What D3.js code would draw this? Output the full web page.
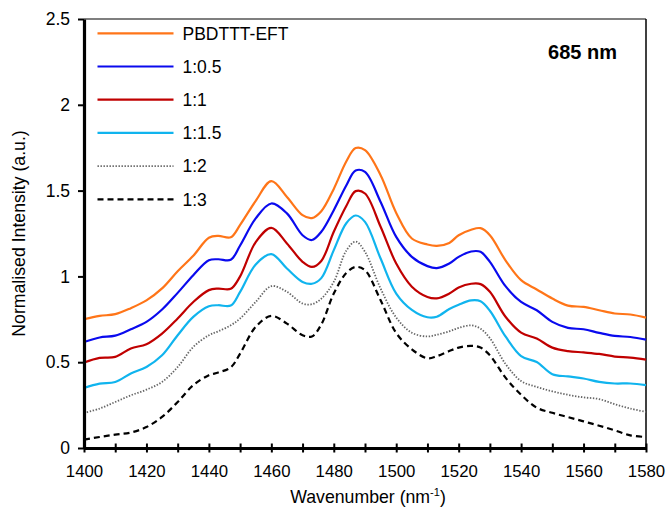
<!DOCTYPE html>
<html>
<head>
<meta charset="utf-8">
<script src="https://cdn.jsdelivr.net/npm/d3@7"></script>
<style>
  body { margin: 0; background: #fff; }
  svg { display: block; font-family: "Liberation Sans", Arial, sans-serif; }
</style>
</head>
<body>
<svg id="chart" width="668" height="510"></svg>
<script>
// wavenumber grid (nm^-1)
const wavenumber = [1400,1405,1410,1415,1420,1425,1430,1435,1440,1443,1447,1450,1455,1460,1465,1470,1473,1476,1480,1484,1487,1490,1495,1500,1505,1510,1513,1517,1520,1524,1527,1530,1535,1540,1545,1550,1555,1560,1565,1570,1575,1580];

const seriesNames = ["PBDTTT-EFT", "1:0.5", "1:1", "1:1.5", "1:2", "1:3"];

const pbdttt = [0.75,0.77,0.78,0.815,0.86,0.93,1.03,1.12,1.225,1.236,1.228,1.30,1.44,1.555,1.463,1.357,1.34,1.38,1.51,1.67,1.748,1.736,1.59,1.37,1.221,1.186,1.178,1.195,1.24,1.272,1.281,1.24,1.094,0.978,0.924,0.871,0.83,0.822,0.803,0.784,0.778,0.76];
const r105 = [0.618,0.644,0.655,0.692,0.735,0.807,0.904,1.007,1.094,1.10,1.097,1.18,1.338,1.425,1.367,1.24,1.212,1.26,1.386,1.53,1.617,1.609,1.434,1.23,1.114,1.06,1.048,1.075,1.114,1.145,1.143,1.085,0.943,0.851,0.803,0.735,0.70,0.692,0.671,0.653,0.647,0.632];
const r11 = [0.498,0.525,0.531,0.58,0.605,0.667,0.755,0.851,0.92,0.929,0.928,1.0,1.20,1.283,1.192,1.085,1.055,1.09,1.26,1.41,1.497,1.483,1.289,1.075,0.94,0.88,0.872,0.90,0.935,0.957,0.955,0.91,0.765,0.672,0.638,0.585,0.565,0.557,0.548,0.533,0.527,0.515];
const r115 = [0.35,0.375,0.385,0.434,0.472,0.54,0.657,0.764,0.826,0.832,0.83,0.91,1.07,1.13,1.046,0.968,0.957,0.99,1.153,1.31,1.355,1.318,1.104,0.90,0.805,0.762,0.765,0.81,0.835,0.86,0.855,0.80,0.65,0.535,0.501,0.43,0.417,0.405,0.385,0.376,0.376,0.366];
const r12 = [0.204,0.23,0.268,0.307,0.34,0.385,0.472,0.589,0.657,0.68,0.715,0.755,0.851,0.943,0.91,0.842,0.838,0.87,0.968,1.15,1.203,1.143,0.929,0.76,0.672,0.65,0.66,0.68,0.70,0.715,0.695,0.64,0.49,0.39,0.356,0.33,0.31,0.295,0.285,0.255,0.23,0.21];
const r13 = [0.049,0.064,0.078,0.09,0.122,0.181,0.268,0.366,0.424,0.44,0.47,0.55,0.706,0.77,0.725,0.657,0.65,0.72,0.90,1.02,1.055,1.036,0.861,0.67,0.575,0.523,0.535,0.565,0.585,0.595,0.585,0.54,0.41,0.31,0.235,0.205,0.18,0.155,0.13,0.103,0.074,0.064];

const xTicks = [1400,1420,1440,1460,1480,1500,1520,1540,1560,1580];
const xMinor = d3.range(1400, 1581, 10);
const yTicks = [0,0.5,1,1.5,2,2.5];

// line styles
const colors = ["#ff7518", "#0a0aee", "#c00000", "#10b4ee", "#666666", "#000000"];
const dashes = [null, null, null, null, "1.4,1.6", "6,4"];
const widths = [2.2, 2.2, 2.2, 2.2, 1.8, 2.2];

const seriesValues = [pbdttt, r105, r11, r115, r12, r13];
const series = seriesNames.map((name, i) => ({
  name,
  points: wavenumber.map((w, j) => ({ x: w, y: seriesValues[i][j] }))
}));

const margin = { top: 19, right: 22, bottom: 62, left: 84 };
const width = 668, height = 510;
const svg = d3.select("#chart");

const x = d3.scaleLinear().domain([1400, 1580]).range([margin.left, width - margin.right]);
const y = d3.scaleLinear().domain([0, 2.5]).range([height - margin.bottom, margin.top]);

// frame (top and right thin)
svg.append("line")
  .attr("x1", x(1400)).attr("x2", x(1580)).attr("y1", y(2.5)).attr("y2", y(2.5))
  .attr("stroke", "#000").attr("stroke-width", 1.2);
svg.append("line")
  .attr("x1", x(1580)).attr("x2", x(1580)).attr("y1", y(2.5)).attr("y2", y(0))
  .attr("stroke", "#000").attr("stroke-width", 1.5);

// lines
const line = d3.line()
  .x(d => x(d.x))
  .y(d => y(d.y))
  .curve(d3.curveCatmullRom.alpha(0.5));

svg.append("g")
  .selectAll("path")
  .data(series)
  .join("path")
  .attr("d", d => line(d.points))
  .attr("fill", "none")
  .attr("stroke", (d, i) => colors[i])
  .attr("stroke-width", (d, i) => widths[i])
  .attr("stroke-dasharray", (d, i) => dashes[i]);

// x axis
const xAxis = svg.append("g")
  .attr("transform", `translate(0,${y(0)})`)
  .call(d3.axisBottom(x).tickValues(xMinor).tickSizeOuter(0)
    .tickFormat(d => xTicks.includes(d) ? d : ""));
xAxis.select(".domain").attr("stroke-width", 3.2);
xAxis.selectAll(".tick line").attr("y1", -4.5).attr("y2", 4.5).attr("stroke-width", 2);
xAxis.selectAll(".tick text")
  .attr("y", 0).attr("dy", null)
  .attr("transform", "translate(0,29)")
  .attr("font-size", 16.8).attr("fill", "#000")
  .attr("font-family", "Liberation Sans, Arial, sans-serif");

// y axis
const yAxis = svg.append("g")
  .attr("transform", `translate(${x(1400)},0)`)
  .call(d3.axisLeft(y).tickValues(yTicks).tickSize(6).tickSizeOuter(0).tickFormat(d3.format("")));
yAxis.select(".domain").attr("stroke-width", 3.2);
yAxis.selectAll(".tick line").attr("stroke-width", 2);
yAxis.selectAll(".tick text")
  .attr("x", -14)
  .attr("font-size", 17.5).attr("fill", "#000")
  .attr("font-family", "Liberation Sans, Arial, sans-serif");

// axis titles
const xt = svg.append("text")
  .attr("x", 368).attr("y", 503)
  .attr("text-anchor", "middle")
  .attr("font-size", 17.7);
xt.append("tspan").text("Wavenumber (nm");
xt.append("tspan").attr("dy", -7).attr("font-size", 11).text("-1");
xt.append("tspan").attr("dy", 7).text(")");

svg.append("text")
  .attr("transform", `translate(25,${(y(0) + y(2.5)) / 2}) rotate(-90)`)
  .attr("text-anchor", "middle")
  .attr("font-size", 17.7)
  .text("Normalised Intensity (a.u.)");

// annotation
svg.append("text")
  .attr("x", 617).attr("y", 58.5)
  .attr("text-anchor", "end")
  .attr("font-size", 20).attr("font-weight", "bold")
  .text("685 nm");

// legend
const legend = svg.append("g")
  .selectAll("g")
  .data(series)
  .join("g")
  .attr("transform", (d, i) => `translate(97.5,${33.3 + i * 33.2})`);
legend.append("line")
  .attr("x1", 0).attr("x2", 76)
  .attr("stroke", (d, i) => colors[i])
  .attr("stroke-width", (d, i) => widths[i])
  .attr("stroke-dasharray", (d, i) => dashes[i]);
legend.append("text")
  .attr("x", 85).attr("y", 6.3)
  .attr("font-size", 17.5)
  .text(d => d.name);
</script>
</body>
</html>
